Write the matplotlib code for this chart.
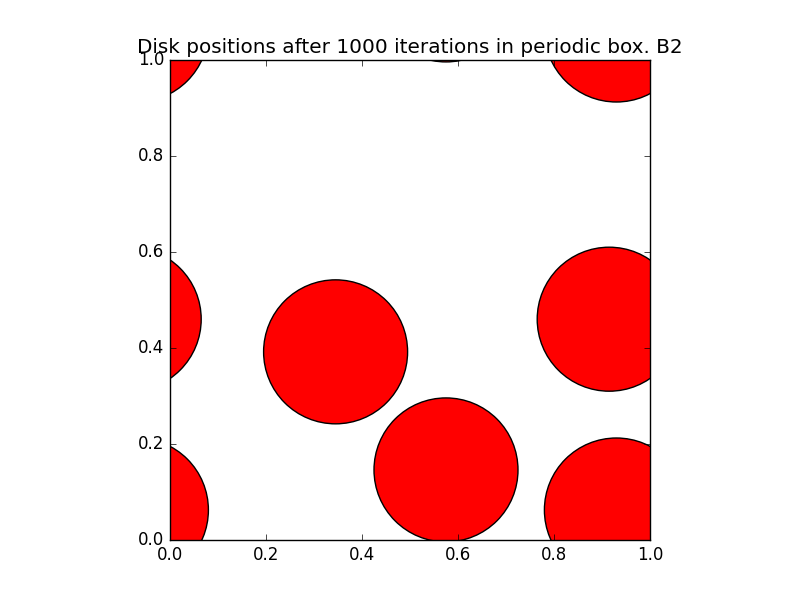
import matplotlib
matplotlib.use("Agg")
import matplotlib.pyplot as plt

plt.style.use("classic")

# disk centres, periodic box [0, 1]^2
disk_x = [0.345, 0.575, 0.915, 0.93]
disk_y = [0.392, 0.146, 0.46, 0.0625]
sigma = 0.15
shifts = [-1.0, 0.0, 1.0]

fig = plt.figure(figsize=(8, 6), dpi=100)
ax = plt.gca()
ax.set_aspect("equal")
for x, y in zip(disk_x, disk_y):
    for dx in shifts:
        for dy in shifts:
            circ = plt.Circle((x + dx, y + dy), radius=sigma, fc="r")
            ax.add_patch(circ)
plt.axis([0.0, 1.0, 0.0, 1.0])
plt.title("Disk positions after 1000 iterations in periodic box. B2")
plt.savefig("out.png")
